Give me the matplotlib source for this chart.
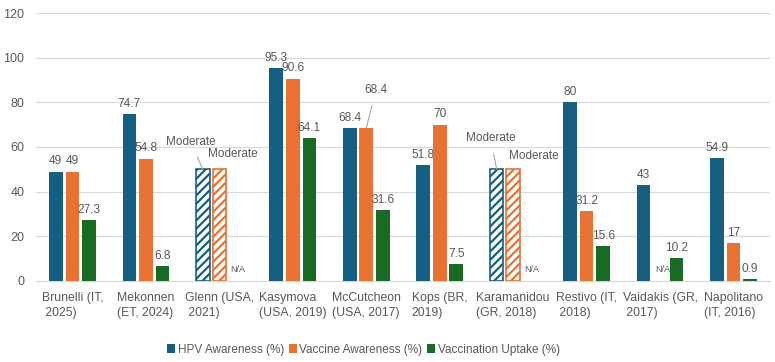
import matplotlib
matplotlib.use("Agg")
import matplotlib.pyplot as plt
import numpy as np

plt.rcParams['font.family'] = ['Liberation Sans', 'DejaVu Sans']
plt.rcParams['hatch.linewidth'] = 1.6

categories = ["Brunelli (IT,\n 2025)", "Mekonnen\n(ET, 2024)", "Glenn (USA,\n 2021)",
              "Kasymova\n(USA, 2019)", "McCutcheon\n(USA, 2017)", "Kops (BR,\n2019)",
              "Karamanidou\n(GR, 2018)", "Restivo (IT,\n 2018)", "Vaidakis (GR,\n 2017)",
              "Napolitano\n(IT, 2016)"]
series_names = ["HPV Awareness (%)", "Vaccine Awareness (%)", "Vaccination Uptake (%)"]
hpv = [49, 74.7, None, 95.3, 68.4, 51.8, None, 80, 43, 54.9]
vacc_aware = [49, 54.8, None, 90.6, 68.4, 70, None, 31.2, None, 17]
uptake = [27.3, 6.8, None, 64.1, 31.6, 7.5, None, 15.6, 10.2, 0.9]
moderate_value = 50
moderate_text = "Moderate"
na_text = "N/A"

colors = ["#156082", "#E97132", "#196B24"]
text_color = "#595959"

fig = plt.figure(figsize=(7.75, 3.62), dpi=100)
ax = fig.add_axes([0.046, 0.224, 0.948, 0.740])

x = np.arange(len(categories))
w = 0.185
offsets = [-0.225, 0.0, 0.225]
all_series = [hpv, vacc_aware, uptake]

for s, (vals, col, off) in enumerate(zip(all_series, colors, offsets)):
    for i, v in enumerate(vals):
        xi = x[i] + off
        if v is None:
            if s < 2 and hpv[i] is None:
                # qualitative "Moderate" bars
                ax.bar(xi, moderate_value, width=w, facecolor="white", edgecolor=col,
                       hatch="////", linewidth=1.2, zorder=3)
            else:
                ax.text(xi + 0.03, 5, na_text, ha="center", va="center",
                        fontsize=6.5, color=text_color, zorder=4)
            continue
        ax.bar(xi, v, width=w, color=col, zorder=3,
               label=series_names[s] if i == 0 else None)
        label = f"{v:g}"
        if s == 1 and i == 4:
            # McCutcheon vaccine awareness label shifted with leader line
            ax.annotate(label, xy=(xi, v), xytext=(xi + 0.13, v + 17),
                        ha="center", va="center", fontsize=8.6, color=text_color,
                        arrowprops=dict(arrowstyle="-", color="#A6A6A6", lw=0.8,
                                        shrinkA=5, shrinkB=0))
        else:
            ax.annotate(label, xy=(xi, v), xytext=(0, 3), textcoords="offset points",
                        ha="center", va="bottom", fontsize=8.6, color=text_color)

# "Moderate" callouts
mod_pos = {2: [(1.61, 62.2), (2.18, 56.9)], 6: [(5.69, 64.0), (6.28, 56.0)]}
for i, pts in mod_pos.items():
    for s, (tx, ty) in enumerate(pts):
        bx = x[i] + offsets[s]
        ax.annotate(moderate_text, xy=(bx, moderate_value), xytext=(tx, ty),
                    ha="center", va="center", fontsize=8.5, color=text_color,
                    arrowprops=dict(arrowstyle="-", color="#A6A6A6", lw=0.8,
                                    shrinkA=5, shrinkB=0))

ax.set_xlim(-0.5, 9.5)
ax.set_ylim(0, 120)
ax.set_yticks(range(0, 121, 20))
ax.set_xticks(x)
ax.set_xticklabels(categories, fontsize=8.8, color=text_color, multialignment="left",
                   linespacing=1.3)
ax.tick_params(axis="y", labelsize=9, labelcolor=text_color, length=0, pad=8)
ax.tick_params(axis="x", length=0, pad=8)
ax.grid(axis="y", color="#D9D9D9", linewidth=0.8, zorder=0)
for sp in ["top", "right", "left"]:
    ax.spines[sp].set_visible(False)
ax.spines["bottom"].set_color("#D9D9D9")
ax.set_axisbelow(True)

leg = fig.legend(loc="center", bbox_to_anchor=(0.469, 0.034), ncol=3, frameon=False,
                 fontsize=8.5, handlelength=0.7, handleheight=0.7, handletextpad=0.2,
                 columnspacing=0.4)
for t in leg.get_texts():
    t.set_color(text_color)

fig.savefig("out.png", dpi=100)
